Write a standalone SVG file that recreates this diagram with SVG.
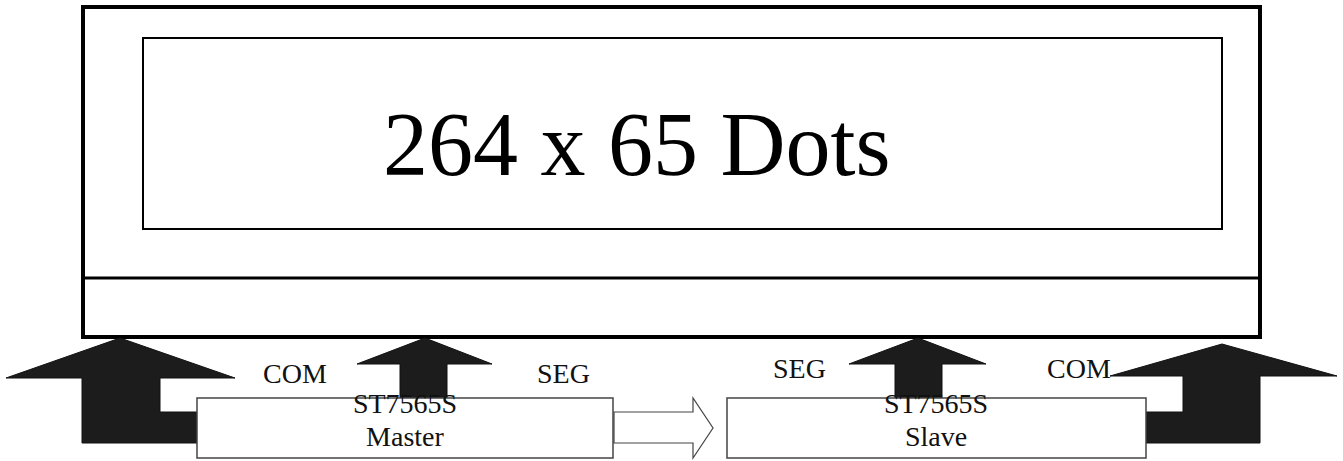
<svg xmlns="http://www.w3.org/2000/svg" width="1343" height="461" viewBox="0 0 1343 461">
  <style>
    .lbl { font-family: "Liberation Serif", "Times New Roman", serif; font-size: 28px; fill: #111; }
    .box { fill: #fff; stroke: #444; stroke-width: 1.5; }
    .solid { fill: #1c1c1c; stroke: #111; stroke-width: 1; }
    .title { font-family: "Liberation Serif", "Times New Roman", serif; font-size: 90px; fill: #000; }
  </style>
  <rect width="1343" height="461" fill="#fff"/>
  <g id="lcd">
    <rect x="83" y="7" width="1177" height="330" fill="none" stroke="#000" stroke-width="4"/>
    <line x1="83" y1="278" x2="1260" y2="278" stroke="#000" stroke-width="3"/>
  </g>
  <g id="dots">
    <rect x="143" y="38" width="1079" height="191" fill="none" stroke="#000" stroke-width="2"/>
    <text class="title" x="383" y="175">264 x 65 Dots</text>
  </g>
  <g id="connectors">
    <path id="com-left" class="solid" d="M120,338 L235,378 L160,378 L160,412 L197,412 L197,443 L82,443 L82,378 L6,378 Z"/>
    <path id="seg-master" class="solid" d="M425,338 L492,364 L447,364 L447,398 L400,398 L400,364 L357,364 Z"/>
    <path id="seg-slave" class="solid" d="M918,338 L986,364 L942,364 L942,398 L895,398 L895,364 L849,364 Z"/>
    <path id="com-right" class="solid" d="M1222,344 L1337,376 L1260,376 L1260,443 L1146,443 L1146,412 L1183,412 L1183,376 L1110,376 Z"/>
    <path id="link" fill="#fff" stroke="#444" stroke-width="1.2" d="M614,412 L693,412 L693,398 L713,428 L693,458 L693,443 L614,443 Z"/>
  </g>
  <g id="master">
    <rect class="box" x="197" y="398" width="416" height="60"/>
    <text class="lbl" x="405" y="413" text-anchor="middle" font-size="29">ST7565S</text>
    <text class="lbl" x="405" y="446" text-anchor="middle" font-size="29">Master</text>
  </g>
  <g id="slave">
    <rect class="box" x="727" y="398" width="419" height="60"/>
    <text class="lbl" x="936" y="413" text-anchor="middle" font-size="29">ST7565S</text>
    <text class="lbl" x="936" y="446" text-anchor="middle" font-size="29">Slave</text>
  </g>
  <g id="labels">
    <text class="lbl" x="263" y="383">COM</text>
    <text class="lbl" x="537" y="383">SEG</text>
    <text class="lbl" x="773" y="378">SEG</text>
    <text class="lbl" x="1047" y="378">COM</text>
  </g>
</svg>
